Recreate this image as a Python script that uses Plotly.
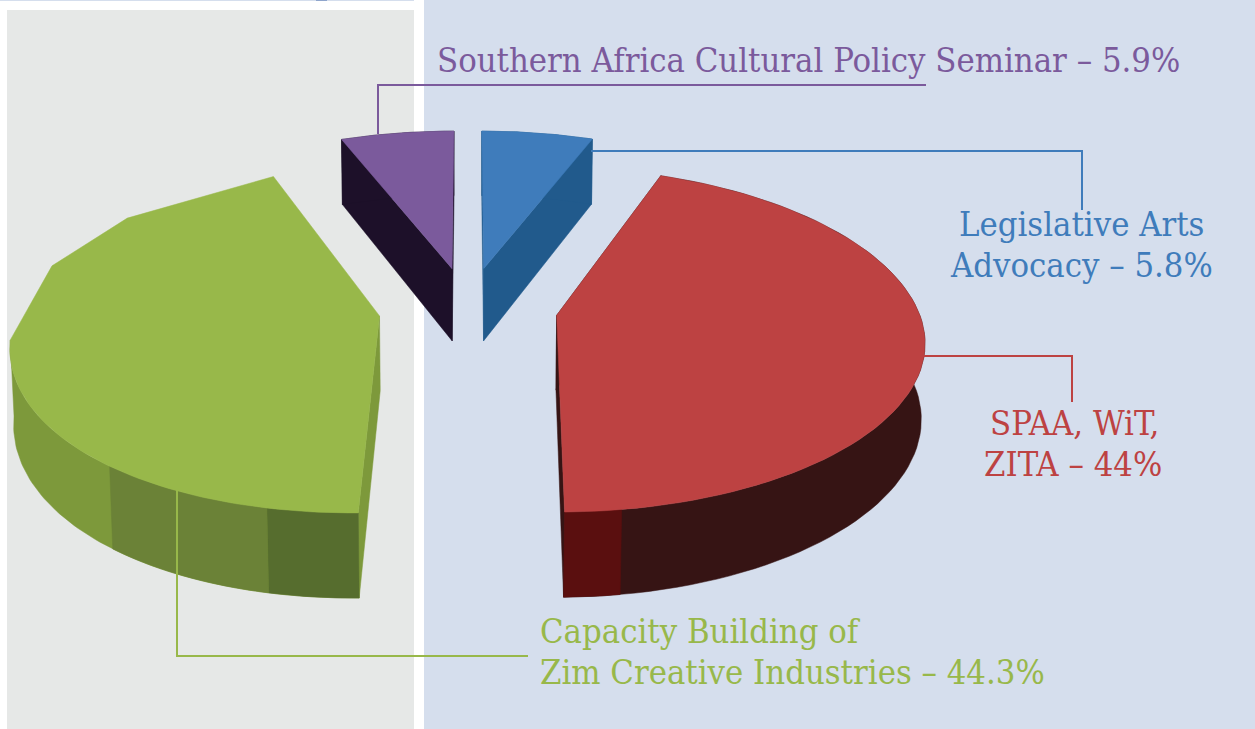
import math
import plotly.graph_objects as go

# ---- data ----
categories = ["Legislative Arts Advocacy", "SPAA, WiT, ZITA",
              "Capacity Building of Zim Creative Industries",
              "Southern Africa Cultural Policy Seminar"]
shares = [5.8, 44.0, 44.3, 5.9]
top_colors = ["#3F7CBB", "#BD4242", "#98B84A", "#7B5A9C"]
wall_colors = ["#215A8C", "#361414", "#7D993B", "#1D1029"]
# darker bands of the outer wall: (slice index, start angle, end angle, colour)
wall_bands = [(1, 171.5, 180.0, "#5A0F0F"),
              (2, 179.0, 191.9, "#566D2E"),
              (2, 191.9, 217.9, "#6B8237")]

# ---- projection of the pie ----
XC, YC, F, A, K, EXPL, H, M, LEAN = 468, 308, 361, 167, 0.14, 0.248, 75, 0.008, 11


def project(th, r, off, low):
    X = off[0] + r * math.sin(th)
    Y = off[1] + r * math.cos(th)
    s = 1 / (1 + K * Y + (M if low else 0))
    return XC + F * X * s - LEAN * max(0.0, -Y) ** 2, YC + (-A * Y + (H if low else 0)) * s


def arc(a0, a1, off, low, n=80):
    return [project(math.radians(a0 + (a1 - a0) * i / n), 1, off, low) for i in range(n + 1)]


def poly(fig, pts, color):
    xs = [p[0] for p in pts] + [pts[0][0]]
    ys = [p[1] for p in pts] + [pts[0][1]]
    fig.add_trace(go.Scatter(x=xs, y=ys, mode="lines", fill="toself", fillcolor=color,
                             line=dict(width=0.5, color=color), hoverinfo="skip", showlegend=False))


fig = go.Figure()
start = 0.0
for i, v in enumerate(shares):
    sweep = v * 3.6
    a0, a1 = start, start + sweep
    mid = math.radians((a0 + a1) / 2)
    off = (EXPL * math.sin(mid), EXPL * math.cos(mid))
    # cut faces
    for a in (a0, a1):
        if i == 2 and a == a1:
            continue
        poly(fig, [project(0, 0, off, False), project(math.radians(a), 1, off, False),
                   project(math.radians(a), 1, off, True), project(0, 0, off, True)], wall_colors[i])
    # outer wall (only the part that faces the viewer for the green slice)
    wall_end = 262 if i == 2 else a1
    poly(fig, arc(a0, wall_end, off, False) + arc(wall_end, a0, off, True), wall_colors[i])
    for idx, b0, b1, col in wall_bands:
        if idx == i:
            b0, b1 = max(b0, a0), min(b1, a1)
            poly(fig, arc(b0, b1, off, False, 20) + arc(b1, b0, off, True, 20), col)
    # top face; the rear-left rim of the green slice is faceted
    if i == 2:
        rim = (arc(a0, 262, off, False, 60)
               + [project(math.radians(t), 1, off, False) for t in (288, 309, a1)])
    else:
        rim = arc(a0, a1, off, False)
    poly(fig, [project(0, 0, off, False)] + rim, top_colors[i])
    start = a1


def leader(path, color):
    return dict(type="path", path=path, xref="x", yref="y", layer="above",
                line=dict(color=color, width=2))


shapes = [
    dict(type="rect", x0=7, x1=414, y0=10, y1=729, xref="x", yref="y", layer="below",
         fillcolor="#E6E8E7", line_width=0),
    dict(type="rect", x0=424, x1=1255, y0=0, y1=729, xref="x", yref="y", layer="below",
         fillcolor="#D5DEED", line_width=0),
    dict(type="rect", x0=0, x1=414, y0=0, y1=1, xref="x", yref="y", layer="below",
         fillcolor="#D5DEED", line_width=0),
    dict(type="rect", x0=316, x1=327, y0=0, y1=1, xref="x", yref="y", layer="below",
         fillcolor="#8FA5CC", line_width=0),
    leader("M378,134 L378,85 L926,85", top_colors[3]),
    leader("M591,151 L1082,151 L1082,210", top_colors[0]),
    leader("M922,356 L1072,356 L1072,402", top_colors[1]),
    leader("M177,487 L177,656 L528,656", top_colors[2]),
]


def pct(i):
    return f"{shares[i]:g}%"


words0 = categories[0].split()
words2 = categories[2].split()
labels = [
    (f"{categories[3]} – {pct(3)}", 435, 60, "left", top_colors[3]),
    (" ".join(words0[:2]), 1081, 224, "center", top_colors[0]),
    (f"{words0[2]} – {pct(0)}", 1081, 265, "center", top_colors[0]),
    (categories[1].rsplit(" ", 1)[0], 1074, 423, "center", top_colors[1]),
    (f"{categories[1].rsplit(' ', 1)[1]} – {pct(1)}", 1073, 464, "center", top_colors[1]),
    (" ".join(words2[:3]), 538, 631, "left", top_colors[2]),
    (f"{' '.join(words2[3:])} – {pct(2)}", 538, 672, "left", top_colors[2]),
]
annotations = [dict(text=t, x=x, y=y, xref="x", yref="y", xanchor=xa, yanchor="middle",
                    showarrow=False, font=dict(family="DejaVu Serif Condensed, DejaVu Serif", size=34.3, color=c))
               for t, x, y, xa, c in labels]

fig.update_layout(width=1255, height=729, margin=dict(l=0, r=0, t=0, b=0),
                  paper_bgcolor="white", plot_bgcolor="white", shapes=shapes,
                  annotations=annotations, showlegend=False,
                  xaxis=dict(range=[0, 1255], visible=False, fixedrange=True),
                  yaxis=dict(range=[729, 0], visible=False, fixedrange=True))
fig.write_html("out.html", config=dict(displayModeBar=False),
               post_script="document.body.style.margin='0';document.body.style.overflow='hidden';")
